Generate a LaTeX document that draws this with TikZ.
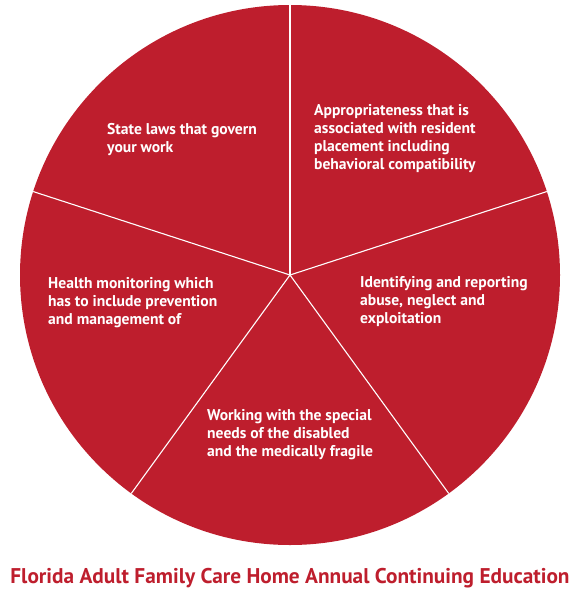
\documentclass[tikz,border=0pt]{standalone}
\usepackage{fontspec}
\setmainfont{PT Sans}
\usetikzlibrary{calc}
\definecolor{piered}{HTML}{BE1E2D}
\tikzset{
  slice/.style={font=\fontsize{15.6}{18}\selectfont\bfseries, text=white, anchor=base west, align=left, inner sep=0pt},
  spoke/.style={draw=white, line width=1.1pt},
  ttl/.style={font=\fontsize{21.3}{24}\selectfont\bfseries, text=piered, anchor=base, inner sep=0pt},
}
\begin{document}
\begin{tikzpicture}[x=1pt,y=-1pt]
  \useasboundingbox (0,0) rectangle (583,600);
  \coordinate (ctr) at (290,275);
  \fill[piered] (ctr) circle (270pt);
  % five spokes of the pie
  \foreach \a [count=\i] in {90,18,-54,-126,162}
    \coordinate (rim\i) at ($(ctr)+(\a:270pt)$);
  \foreach \i in {1,...,5}
    \draw[spoke] (ctr) -- (rim\i);
  % base anchor sits on the last line
  \node[slice] (state) at (107,152) {State laws that govern\\your work};
  \node[slice] (place) at (314,169.5) {Appropriateness that is\\associated with resident\\placement including\\behavioral compatibility};
  \node[slice] (abuse) at (360,323) {Identifying and reporting\\abuse, neglect and\\exploitation};
  \node[slice] (needs) at (207,456) {Working with the special\\needs of the disabled\\and the medically fragile};
  \node[slice] (health) at (48,324) {Health monitoring which\\has to include prevention\\and management of};
  \node[ttl] (title) at (290,583) {Florida Adult Family Care Home Annual Continuing Education};
\end{tikzpicture}
\end{document}
